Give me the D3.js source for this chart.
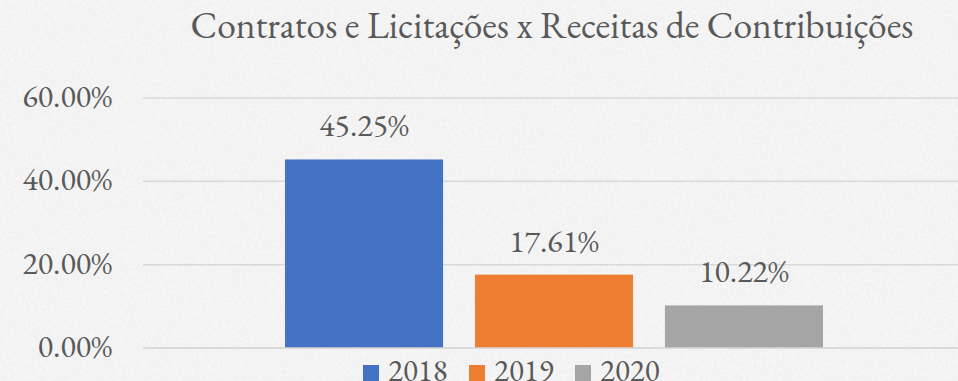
<!DOCTYPE html>
<html>
<head>
<meta charset="utf-8">
<script src="https://cdn.jsdelivr.net/npm/d3@7"></script>
<style>
  html, body { margin: 0; padding: 0; background: #f3f3f3; }
  svg { display: block; }
</style>
</head>
<body>
<svg id="chart" width="958" height="381"></svg>
<script>
const title = "Contratos e Licitações x Receitas de Contribuições";
const years = ["2018", "2019", "2020"];
const values = [45.25, 17.61, 10.22];
const colors = ["#4472c4", "#ed7d31", "#a5a5a5"];
const tickValues = [0, 20, 40, 60];

const W = 958, H = 381;
const margin = { top: 98, right: -7, bottom: 33, left: 143 };
const font = "'EB Garamond', 'Liberation Serif', serif";
const textColor = "#595959";

const svg = d3.select("#chart");

// paper-like background texture
const defs = svg.append("defs");
const f = defs.append("filter").attr("id", "paper").attr("x", 0).attr("y", 0).attr("width", "100%").attr("height", "100%");
f.append("feTurbulence").attr("type", "fractalNoise").attr("baseFrequency", 0.35).attr("numOctaves", 2).attr("seed", 3).attr("result", "noise");
f.append("feColorMatrix").attr("in", "noise").attr("type", "matrix")
  .attr("values", "0 0 0 0 1  0 0 0 0 1  0 0 0 0 1  0 0 0 1.2 -0.55").attr("result", "spots");
f.append("feComposite").attr("in", "spots").attr("in2", "SourceGraphic").attr("operator", "over");
svg.append("rect").attr("width", W).attr("height", H).attr("fill", "#f2f2f2").attr("filter", "url(#paper)");

const x0 = margin.left, x1 = W - margin.right;
const y = d3.scaleLinear().domain([0, 60]).range([H - margin.bottom, margin.top]);

// category band containing the three year bars
const outer = d3.scaleBand().domain(["all"]).range([x0, x1]).paddingInner(0).paddingOuter(0.264);
const inner = d3.scaleBand().domain(years).range([outer("all"), outer("all") + outer.bandwidth()]).paddingInner(0.168).paddingOuter(0);

// gridlines
svg.append("g").selectAll("line").data(tickValues).join("line")
  .attr("x1", x0).attr("x2", x1)
  .attr("y1", d => y(d)).attr("y2", d => y(d))
  .attr("stroke", "#d9d9d9").attr("stroke-width", 1.5);

// axis labels
const yAxis = d3.axisLeft(y).tickValues(tickValues).tickFormat(d => d3.format(".2f")(d) + "%").tickSize(0).tickPadding(31);
const ag = svg.append("g").attr("transform", `translate(${x0},0)`).call(yAxis);
ag.select(".domain").remove();
ag.selectAll("text").attr("fill", textColor).attr("dy", "0.27em")
  .style("font-family", font).style("font-size", "32px");

// bars
svg.append("g").selectAll("rect").data(years).join("rect")
  .attr("x", d => inner(d)).attr("width", inner.bandwidth())
  .attr("y", (d, i) => y(values[i])).attr("height", (d, i) => y(0) - y(values[i]))
  .attr("fill", (d, i) => colors[i]);

// baseline on top of bars
svg.append("line").attr("x1", x0).attr("x2", x1).attr("y1", y(0)).attr("y2", y(0))
  .attr("stroke", "#d9d9d9").attr("stroke-width", 1.5);

// value labels
svg.append("g").selectAll("text").data(years).join("text")
  .attr("x", d => inner(d) + inner.bandwidth() / 2)
  .attr("y", (d, i) => y(values[i]) - 23)
  .attr("text-anchor", "middle")
  .attr("fill", textColor).style("font-family", font).style("font-size", "32px")
  .text((d, i) => d3.format(".2f")(values[i]) + "%");

// title
svg.append("text").attr("x", 552).attr("y", 38).attr("text-anchor", "middle")
  .attr("fill", textColor).style("font-family", font).style("font-size", "37.5px")
  .text(title);

// legend
const legendX = [363, 469, 575];
const lg = svg.append("g").selectAll("g").data(years).join("g")
  .attr("transform", (d, i) => `translate(${legendX[i]},365)`);
lg.append("rect").attr("width", 16).attr("height", 16).attr("fill", (d, i) => colors[i]);
lg.append("text").attr("x", 25).attr("y", 16).attr("fill", textColor)
  .style("font-family", font).style("font-size", "31px").text(d => d);
</script>
</body>
</html>
